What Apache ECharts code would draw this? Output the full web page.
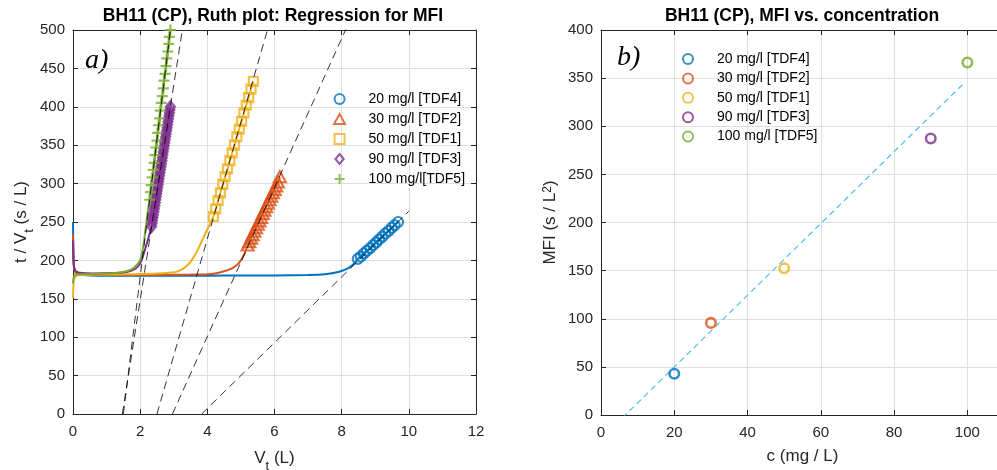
<!DOCTYPE html>
<html>
<head>
<meta charset="utf-8">
<script src="https://cdn.jsdelivr.net/npm/echarts@6/dist/echarts.min.js"></script>
<style>
  html, body { margin: 0; padding: 0; background: #ffffff; }
  #chart { width: 997px; height: 470px; }
</style>
</head>
<body>
<div id="chart"></div>
<script>
// ---- Test runs (feed concentration, label) ----
const runNames   = ['20 mg/l [TDF4]', '30 mg/l [TDF2]', '50 mg/l [TDF1]', '90 mg/l [TDF3]', '100 mg/l [TDF5]'];
const ruthLabels = ['20 mg/l [TDF4]', '30 mg/l [TDF2]', '50 mg/l [TDF1]', '90 mg/l [TDF3]', '100 mg/l[TDF5]'];
const runColors  = ['#0072BD', '#D95319', '#EDB120', '#7E2F8E', '#77AC30'];

// ---- Ruth plot: filtrate volume V (L) vs. t/V (s/L), before the regression window ----
const vLead20  = [0, 0.01, 0.03, 0.08, 0.2, 0.5, 1, 2, 3, 4, 5, 6, 7, 7.5, 7.9, 8.2, 8.4];
const tvLead20 = [250, 215, 192, 184, 181.5, 180.5, 180, 180, 180, 180, 180.5, 180.5, 181, 182, 185, 190, 197];
const vLead30  = [0, 0.01, 0.03, 0.08, 0.2, 0.6, 1.5, 2.5, 3.5, 4.05, 4.4, 4.75, 4.95, 5.1];
const tvLead30 = [233, 205, 190, 184, 182, 181, 181, 181, 181.5, 182, 184.5, 190, 197, 208];
const vLead50  = [0, 0.01, 0.03, 0.08, 0.2, 0.6, 1.5, 2.5, 3.06, 3.3, 3.46, 3.62, 3.76, 3.95];
const tvLead50 = [151, 165, 175, 179.5, 181, 181.5, 182, 183, 185, 190, 196, 206, 218, 236];
const vLead90  = [0, 0.01, 0.03, 0.08, 0.2, 0.6, 1.2, 1.6, 1.85, 1.97, 2.04, 2.15, 2.25];
const tvLead90 = [226, 205, 192, 186, 184, 183, 183.5, 185, 189, 194, 200, 215, 230];
const vLead100  = [0, 0.01, 0.04, 0.1, 0.4, 1.0, 1.5, 1.77, 1.92, 2.02, 2.1, 2.17, 2.23];
const tvLead100 = [170, 176, 180, 181.5, 182, 183, 185, 189, 195, 203, 220, 244, 265];

// ---- Ruth plot: points inside the regression window ----
const vFit20  = [8.48, 8.57, 8.66, 8.75, 8.85, 8.94, 9.03, 9.12, 9.21, 9.30, 9.40, 9.49, 9.58, 9.68];
const tvFit20 = [202, 205, 209, 212.5, 216, 220, 223.5, 227.5, 231, 235, 238.5, 242.5, 246, 250];
const vFit30  = [5.20, 5.25, 5.30, 5.35, 5.40, 5.45, 5.50, 5.55, 5.60, 5.65, 5.70, 5.75, 5.80,
                 5.85, 5.90, 5.95, 6.00, 6.05, 6.10, 6.16];
const tvFit30 = [220, 224.5, 229, 233.5, 238, 242.5, 247, 251.5, 256, 261, 265.5, 270, 274.5,
                 279, 283.5, 288, 292.5, 297, 302, 309];
const vFit50  = [4.18, 4.25, 4.32, 4.39, 4.46, 4.53, 4.60, 4.67, 4.74, 4.81, 4.88, 4.95, 5.02, 5.09, 5.16, 5.23, 5.30, 5.37];
const tvFit50 = [257, 267, 278, 288, 299, 309, 319, 330, 340, 350, 361, 371, 381, 392, 402, 412, 423, 433];
const vFit90  = [2.340, 2.354, 2.368, 2.382, 2.396, 2.410, 2.424, 2.438, 2.452, 2.466, 2.480, 2.494, 2.508, 2.522,
                 2.536, 2.550, 2.564, 2.578, 2.592, 2.606, 2.620, 2.634, 2.648, 2.662, 2.676, 2.690, 2.704,
                 2.718, 2.732, 2.746, 2.760, 2.774, 2.788, 2.802, 2.816, 2.830, 2.844, 2.858, 2.872, 2.886, 2.900];
const tvFit90 = [244, 247.9, 251.8, 255.7, 259.6, 263.5, 267.4, 271.3, 275.2, 279.1, 283, 286.9, 290.8, 294.7,
                 298.6, 302.5, 306.4, 310.3, 314.2, 318.1, 322, 325.9, 329.8, 333.7, 337.6, 341.5, 345.4,
                 349.3, 353.2, 357.1, 361, 364.9, 368.8, 372.7, 376.6, 380.5, 384.4, 388.3, 392.2, 396.1, 400];
const vFit100  = [2.28, 2.31, 2.33, 2.36, 2.39, 2.42, 2.44, 2.47, 2.50, 2.52, 2.55, 2.58,
                  2.60, 2.63, 2.66, 2.69, 2.71, 2.74, 2.77, 2.79, 2.82, 2.85, 2.87, 2.90];
const tvFit100 = [279, 289, 298, 308, 318, 327, 337, 347, 356, 366, 376, 385,
                  395, 405, 414, 424, 434, 443, 453, 463, 472, 482, 491, 500];

// ---- Linear regression in the Ruth plot: t/V = slope * (V - V0) ----
const ruthFitV0    = [3.83, 2.96, 2.50, 1.47, 1.50];
const ruthFitSlope = [42.8, 97, 152, 280, 357];
const ruthFitVmax  = 10;

// ---- MFI vs. concentration ----
const concentration = [20, 30, 50, 90, 100];
const mfiValues     = [42.8, 95.7, 152.5, 287.3, 366.2];
const mfiFitSlope   = 3.73;
const mfiFitOffset  = -24.8;
const mfiFitRange   = [0, 98.7];

// ---- assembled per-run tables ----
const leadV  = [vLead20, vLead30, vLead50, vLead90, vLead100];
const leadTV = [tvLead20, tvLead30, tvLead50, tvLead90, tvLead100];
const fitV   = [vFit20, vFit30, vFit50, vFit90, vFit100];
const fitTV  = [tvFit20, tvFit30, tvFit50, tvFit90, tvFit100];

const FONT = 'Liberation Sans, Arial, Helvetica, sans-serif';
const AXIS_COLOR = '#262626';
const GRID_COLOR = '#dfdfdf';

// marker shapes (outline only)
const markerShapes = [
  'circle',
  'path://M5,0L10,9L0,9Z',
  'path://M0,0H10V10H0Z',
  'path://M5,0L10,6L5,12L0,6Z',
  'path://M5,0L5,10M0,5L10,5'
];
const markerSizes = [10, [12, 11], 9, [9, 11], 11];

const pairs = (xs, ys) => xs.map((x, i) => [x, ys[i]]);

const series = [];

// measured curves
for (let k = 0; k < 5; k++) {
  series.push({
    name: runNames[k] + ' curve',
    type: 'line', xAxisIndex: 0, yAxisIndex: 0,
    data: pairs(leadV[k].concat(fitV[k]), leadTV[k].concat(fitTV[k])),
    showSymbol: false, smooth: 0.2, silent: true, z: 2,
    lineStyle: { color: runColors[k], width: 2 }
  });
}
// regression-window markers
for (let k = 0; k < 5; k++) {
  series.push({
    name: ruthLabels[k],
    type: 'scatter', xAxisIndex: 0, yAxisIndex: 0,
    data: pairs(fitV[k], fitTV[k]),
    symbol: markerShapes[k], symbolSize: markerSizes[k],
    clip: false, silent: true, z: 3,
    itemStyle: { color: 'rgba(0,0,0,0)', borderColor: runColors[k], borderWidth: 2.2 }
  });
}
// regression lines
for (let k = 0; k < 5; k++) {
  const v0 = ruthFitV0[k];
  series.push({
    name: runNames[k] + ' fit',
    type: 'line', xAxisIndex: 0, yAxisIndex: 0,
    data: [[v0, 0], [ruthFitVmax, ruthFitSlope[k] * (ruthFitVmax - v0)]],
    showSymbol: false, silent: true, z: 4,
    lineStyle: { color: '#000000', width: 0.8, type: [8, 5] }
  });
}
// MFI points
for (let k = 0; k < 5; k++) {
  series.push({
    name: 'MFI ' + runNames[k],
    type: 'scatter', xAxisIndex: 2, yAxisIndex: 2,
    data: [[concentration[k], mfiValues[k]]],
    symbol: 'circle', symbolSize: 9.5, silent: true, z: 3,
    itemStyle: { color: 'rgba(0,0,0,0)', borderColor: runColors[k], borderWidth: 2.6 }
  });
}
// MFI regression
series.push({
  name: 'MFI fit',
  type: 'line', xAxisIndex: 2, yAxisIndex: 2,
  data: mfiFitRange.map(c => [c, mfiFitSlope * c + mfiFitOffset]),
  showSymbol: false, silent: true, z: 2,
  lineStyle: { color: '#4DBEEE', width: 1.2, type: [6, 4] }
});

function mainAxis(extra) {
  return Object.assign({
    type: 'value',
    axisLine: { show: true, onZero: false, lineStyle: { color: AXIS_COLOR, width: 1 } },
    axisTick: { show: true, inside: true, length: 5, lineStyle: { color: AXIS_COLOR } },
    axisLabel: { color: AXIS_COLOR, fontSize: 15, fontFamily: FONT },
    splitLine: { show: true, lineStyle: { color: GRID_COLOR, width: 1 } },
    nameTextStyle: { color: AXIS_COLOR, fontSize: 17, fontFamily: FONT }
  }, extra);
}
function boxAxis(extra) {
  return Object.assign({
    type: 'value',
    axisLine: { show: true, onZero: false, lineStyle: { color: AXIS_COLOR, width: 1 } },
    axisTick: { show: true, inside: true, length: 5, lineStyle: { color: AXIS_COLOR } },
    axisLabel: { show: false },
    splitLine: { show: false }
  }, extra);
}

const nameRich = {
  m:   { fontSize: 17, fontFamily: FONT, color: AXIS_COLOR, lineHeight: 17 },
  s:   { fontSize: 13, fontFamily: FONT, color: AXIS_COLOR, lineHeight: 13, padding: [16, 0, 0, 0] },
  mb:  { fontSize: 17, fontFamily: FONT, color: AXIS_COLOR, lineHeight: 17, verticalAlign: 'bottom' },
  p:   { fontSize: 12, fontFamily: FONT, color: AXIS_COLOR, lineHeight: 12, padding: [0, 0, 8, 0], verticalAlign: 'top' }
};

const legendCommon = {
  orient: 'vertical', itemWidth: 48, itemHeight: 10, selectedMode: false,
  itemStyle: { borderWidth: 2 },
  textStyle: { fontSize: 14, fontFamily: FONT, color: '#000000' }
};

const option = {
  animation: false,
  backgroundColor: '#ffffff',
  grid: [
    { left: 73, top: 30, width: 403, height: 384, containLabel: false, outerBoundsMode: 'none' },
    { left: 601, top: 30, width: 403, height: 385, containLabel: false, outerBoundsMode: 'none' }
  ],
  xAxis: [
    mainAxis({ gridIndex: 0, min: 0, max: 12, interval: 2, position: 'bottom',
      name: '{m|V}{s|t}{m| (L)}', nameLocation: 'middle', nameGap: 23,
      nameTextStyle: { rich: nameRich }, axisLabel: { color: AXIS_COLOR, fontSize: 15, fontFamily: FONT, margin: 10 } }),
    boxAxis({ gridIndex: 0, min: 0, max: 12, interval: 2, position: 'top' }),
    mainAxis({ gridIndex: 1, min: 0, max: 110, interval: 20, position: 'bottom',
      name: 'c (mg / L)', nameLocation: 'middle', nameGap: 33,
      axisLabel: { color: AXIS_COLOR, fontSize: 15, fontFamily: FONT, margin: 10, showMaxLabel: false } }),
    boxAxis({ gridIndex: 1, min: 0, max: 110, interval: 20, position: 'top' })
  ],
  yAxis: [
    mainAxis({ gridIndex: 0, min: 0, max: 500, interval: 50, position: 'left',
      name: '{m|t / V}{s|t}{m| (s / L)}', nameLocation: 'middle', nameGap: 38, nameRotate: 90,
      nameTextStyle: { rich: nameRich }, axisLabel: { color: AXIS_COLOR, fontSize: 15, fontFamily: FONT, margin: 8 } }),
    boxAxis({ gridIndex: 0, min: 0, max: 500, interval: 50, position: 'right' }),
    mainAxis({ gridIndex: 1, min: 0, max: 400, interval: 50, position: 'left',
      name: '{mb|MFI (s / L}{p|2}{mb|)}', nameLocation: 'middle', nameGap: 42, nameRotate: 90,
      nameTextStyle: { rich: nameRich }, axisLabel: { color: AXIS_COLOR, fontSize: 15, fontFamily: FONT, margin: 8 } }),
    boxAxis({ gridIndex: 1, min: 0, max: 400, interval: 50, position: 'right' })
  ],
  legend: [
    Object.assign({}, legendCommon, { data: ruthLabels, left: 328, top: 87, itemGap: 6 }),
    Object.assign({}, legendCommon, { data: runNames.map(n => 'MFI ' + n), left: 677, top: 47, itemGap: 5.4,
      formatter: n => n.replace(/^MFI /, '') })
  ],
  graphic: [
    { type: 'text', x: 273, y: 16, silent: true,
      style: { text: 'BH11 (CP), Ruth plot: Regression for MFI', fill: '#000000',
        font: 'bold 17.5px ' + FONT, textAlign: 'center', textVerticalAlign: 'middle' } },
    { type: 'text', x: 802, y: 16, silent: true,
      style: { text: 'BH11 (CP), MFI vs. concentration', fill: '#000000',
        font: 'bold 17.5px ' + FONT, textAlign: 'center', textVerticalAlign: 'middle' } },
    { type: 'text', x: 85, y: 61, silent: true,
      style: { text: 'a)', fill: '#000000', font: 'italic 28px "Liberation Serif", "Times New Roman", serif',
        textAlign: 'left', textVerticalAlign: 'middle' } },
    { type: 'text', x: 617, y: 58, silent: true,
      style: { text: 'b)', fill: '#000000', font: 'italic 28px "Liberation Serif", "Times New Roman", serif',
        textAlign: 'left', textVerticalAlign: 'middle' } }
  ],
  series: series
};

const chart = echarts.init(document.getElementById('chart'), null, { renderer: 'canvas' });
chart.setOption(option);
</script>
</body>
</html>
